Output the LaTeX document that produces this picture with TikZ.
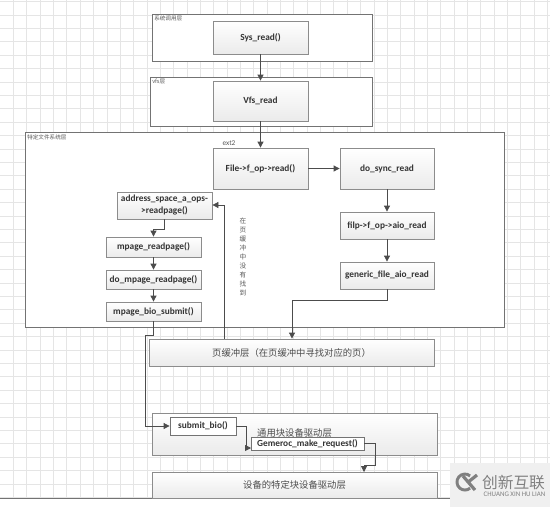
\documentclass[tikz,border=0pt]{standalone}
\usepackage{fontspec}
\setmainfont{Carlito}
\newfontfamily\cjk{Noto Sans CJK SC}
\usetikzlibrary{arrows.meta}
\newcommand{\px}{0.75pt}
\tikzset{
  layer/.style={draw=black!55, line width=0.7pt, fill=white, inner sep=0pt, anchor=north west},
  func/.style={draw=black!45, line width=0.6pt, top color=white, bottom color=gray!16,
    inner sep=0pt, align=center, font=\bfseries\fontsize{7}{9}\selectfont, text=black!80},
  plainfunc/.style={func, top color=white, bottom color=white, draw=black!55},
  band/.style={func, font=\cjk\fontsize{7}{9}\selectfont, text=black!70},
  note/.style={font=\cjk\fontsize{4.2}{5}\selectfont, text=black!65, inner sep=0pt, anchor=north west},
  flow/.style={draw=black!70, line width=0.6pt, -{Triangle[length=4.5pt,width=4.5pt]}},
  gridline/.style={draw=gray!20, line width=0.4pt}
}
\begin{document}
\begin{tikzpicture}[x=\px, y=-\px]
  \useasboundingbox (0,0) rectangle (550,507);
  % Paper and page grid
  \fill[white] (0,0) rectangle (550,507);
  \foreach \k in {1,...,41} {
    \draw[gridline] ({13.35*\k},0) -- ({13.35*\k},498);
  }
  \foreach \k in {0,...,37} {
    \draw[gridline] (0,{1.5+13.4*\k}) -- (550,{1.5+13.4*\k});
  }
  \draw[draw=black!55, line width=0.6pt] (0,498.5) -- (550,498.5);

  % Layer frames
  \node[layer, minimum width=220*\px, minimum height=47*\px] (syslayer) at (152,14) {};
  \node[layer, minimum width=222*\px, minimum height=49*\px] (vfslayer) at (150,77) {};
  \node[layer, minimum width=479*\px, minimum height=195*\px] (fslayer) at (25,132) {};

  % Layer captions
  \node[note] (syscap) at (154,16) {系统调用层};
  \node[note] (vfscap) at (152,79) {vfs层};
  \node[note] (fscap) at (27,134) {特定文件系统层};
  \node[note, font=\fontsize{5.5}{6}\selectfont, anchor=center] (extcap) at (229,143) {ext2};
  \node[note, anchor=north, align=center, font=\cjk\fontsize{5}{6.75}\selectfont] (misscap) at (243,218)
    {在\\页\\缓\\冲\\中\\没\\有\\找\\到};

  % Functions, top part
  \node[func, minimum width=95*\px, minimum height=33*\px] (sysread) at (260.5,37.5) {Sys\_read()};
  \node[func, minimum width=95*\px, minimum height=40*\px] (vfsread) at (260.5,101) {Vfs\_read};
  \node[func, minimum width=95*\px, minimum height=41*\px] (fileread) at (260.5,168.5) {File->f\_op->read()};
  \node[func, minimum width=94*\px, minimum height=41*\px] (syncread) at (387,168.5) {do\_sync\_read};
  \node[func, minimum width=94*\px, minimum height=27*\px] (filpread) at (387,225.5) {filp->f\_op->aio\_read};
  \node[func, minimum width=94*\px, minimum height=27*\px] (genread) at (387,275.5) {generic\_file\_aio\_read};

  % Functions, left column
  \node[func, minimum width=95*\px, minimum height=27*\px] (addrops) at (164.5,205.5) {address\_space\_a\_ops-\\>readpage()};
  \node[func, minimum width=95*\px, minimum height=20*\px] (mreadpage) at (153.5,247) {mpage\_readpage()};
  \node[func, minimum width=95*\px, minimum height=19*\px] (domread) at (153.5,279.5) {do\_mpage\_readpage()};
  \node[func, minimum width=95*\px, minimum height=19*\px] (biosubmit) at (153.5,311.5) {mpage\_bio\_submit()};

  % Lower bands
  \node[band, minimum width=285*\px, minimum height=27*\px] (pagecache) at (291.5,352.5) {页缓冲层（在页缓冲中寻找对应的页）};
  \node[band, minimum width=285*\px, minimum height=42*\px] (blocklayer) at (294.5,434) {};
  \node[band, minimum width=285*\px, minimum height=26*\px] (devlayer) at (294.5,485) {设备的特定块设备驱动层};
  \node[font=\cjk\fontsize{7}{9}\selectfont, text=black!70, inner sep=0pt] (blockcap) at (294.5,433) {通用块设备驱动层};
  \node[plainfunc, minimum width=66*\px, minimum height=18*\px] (submitbio) at (203,426) {submit\_bio()};
  \node[plainfunc, minimum width=113*\px, minimum height=13*\px] (gemeroc) at (307.5,443.5) {Gemeroc\_make\_request()};

  % Turning points of the connectors
  \coordinate (addrturn) at (153.5,229);
  \coordinate (bioturn) at (145,335);
  \coordinate (genturn) at (292,300);
  \coordinate (missturn) at (224,205);
  \coordinate (subturn) at (246,426);
  \coordinate (gemin) at (251,448);
  \coordinate (gemturn) at (375,465);
  \coordinate (devin) at (364,472);

  % Connectors
  \draw[flow] (sysread) -- (vfsread);
  \draw[flow] (vfsread) -- (fileread);
  \draw[flow] (fileread) -- (syncread);
  \draw[flow] (syncread) -- (filpread);
  \draw[flow] (filpread) -- (genread);
  \draw[flow] (genread.south) |- (genturn) -- (genturn |- pagecache.north);
  \draw[flow] (addrops.south) |- (addrturn) -- (mreadpage.north);
  \draw[flow] (mreadpage) -- (domread);
  \draw[flow] (domread) -- (biosubmit);
  \draw[flow] (missturn |- pagecache.north) -- (missturn) -- (addrops.east |- missturn);
  \draw[flow] (biosubmit.south) |- (bioturn) |- (submitbio.west);
  \draw[flow] (submitbio.east) -- (subturn) |- (gemin);
  \draw[flow] (gemeroc.east) -| (gemturn) -| (devin);

  % Watermark
  \fill[gray!12] (450,463) rectangle (550,507);
  \draw[black!50, line width=2.2pt] (470.1,475.9) arc[start angle=-50, end angle=-310, radius=8];
  \draw[black!50, line width=2.4pt] (463,476) -- (475,490) (477,475) -- (467,483);
  \node[font=\cjk\fontsize{11.8}{13}\selectfont, text=black!50, inner sep=0pt] (wmname) at (513.5,483) {创新互联};
  \node[font=\fontsize{5.2}{6}\selectfont, text=black!50, inner sep=0pt] (wmsub) at (514.5,494) {CHUANG XIN HU LIAN};
\end{tikzpicture}
\end{document}
